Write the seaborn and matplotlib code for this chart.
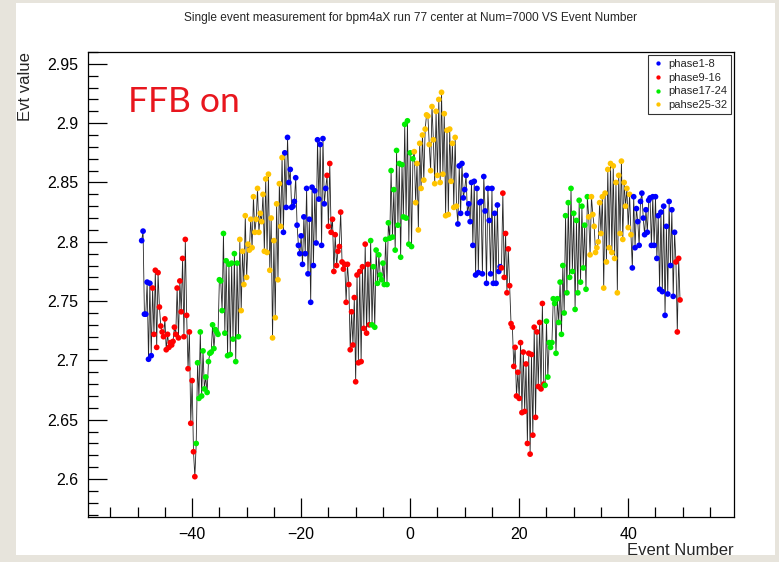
import numpy as np
import pandas as pd
import matplotlib
matplotlib.use("Agg")
import matplotlib.pyplot as plt
from matplotlib.patches import Rectangle
from matplotlib.ticker import MultipleLocator, FuncFormatter
import seaborn as sns

# Event number axis: first event and step between events
event_start, event_step = -49.25, 0.25

phase_names = ["phase1-8", "phase9-16", "phase17-24", "pahse25-32"]
phase_colors = ["#0000ff", "#ff0000", "#00ee00", "#ffc400"]

# Measured values, one list per consecutive block of the phase cycle
block01_blue = [2.801, 2.809, 2.739, 2.739, 2.766, 2.701, 2.765, 2.704]
block02_red = [2.761, 2.722, 2.776, 2.711, 2.774, 2.745, 2.729, 2.724, 2.720, 2.735,
               2.709, 2.722, 2.711, 2.715, 2.713, 2.716, 2.728, 2.722, 2.761, 2.719,
               2.767, 2.741, 2.786, 2.720, 2.802, 2.738, 2.693, 2.724, 2.647, 2.683,
               2.623, 2.602]
block03_green = [2.630, 2.698, 2.668, 2.724, 2.670, 2.708, 2.676, 2.686, 2.673, 2.699,
                 2.706, 2.707, 2.730, 2.710, 2.726, 2.724, 2.722, 2.768, 2.767, 2.742,
                 2.807, 2.723, 2.784, 2.704, 2.781, 2.705, 2.782, 2.718, 2.790, 2.699,
                 2.782, 2.720]
block04_yellow = [2.802, 2.742, 2.792, 2.764, 2.822, 2.770, 2.798, 2.793, 2.819, 2.795,
                  2.838, 2.808, 2.819, 2.845, 2.808, 2.824, 2.817, 2.840, 2.792, 2.853,
                  2.791, 2.857, 2.776, 2.820, 2.719, 2.801, 2.736, 2.832, 2.768, 2.849,
                  2.813, 2.871]
block05_blue = [2.808, 2.875, 2.829, 2.888, 2.850, 2.861, 2.829, 2.830, 2.834, 2.854,
                2.814, 2.797, 2.790, 2.805, 2.781, 2.821, 2.790, 2.845, 2.773, 2.819,
                2.749, 2.846, 2.780, 2.843, 2.799, 2.886, 2.836, 2.882, 2.797, 2.887,
                2.832, 2.845]
block06_red = [2.856, 2.813, 2.866, 2.808, 2.819, 2.775, 2.806, 2.780, 2.792, 2.796,
               2.825, 2.783, 2.777, 2.781, 2.749, 2.781, 2.764, 2.709, 2.741, 2.713,
               2.753, 2.682, 2.772, 2.698, 2.775, 2.699, 2.779, 2.727, 2.798, 2.723,
               2.781, 2.730]
block07_green = [2.801, 2.730, 2.779, 2.728, 2.793, 2.765, 2.789, 2.772, 2.768, 2.782,
                 2.764, 2.802, 2.764, 2.816, 2.803, 2.860, 2.804, 2.844, 2.793, 2.877,
                 2.814, 2.866, 2.787, 2.865, 2.821, 2.899, 2.820, 2.902, 2.798, 2.875,
                 2.796, 2.870]
block08_yellow = [2.876, 2.833, 2.866, 2.810, 2.883, 2.845, 2.890, 2.852, 2.895, 2.907,
                  2.906, 2.882, 2.860, 2.914, 2.886, 2.849, 2.910, 2.856, 2.920, 2.850,
                  2.926, 2.857, 2.908, 2.822, 2.894, 2.823, 2.895, 2.851, 2.883, 2.829,
                  2.888, 2.830]
block09_blue = [2.815, 2.864, 2.824, 2.866, 2.837, 2.844, 2.856, 2.824, 2.832, 2.817,
                2.850, 2.797, 2.851, 2.772, 2.845, 2.774, 2.833, 2.834, 2.773, 2.855,
                2.826, 2.765, 2.845, 2.818, 2.773, 2.845, 2.765, 2.824, 2.765, 2.831,
                2.775, 2.779]
block10_red = [2.778, 2.841, 2.770, 2.807, 2.757, 2.794, 2.763, 2.731, 2.728, 2.695,
               2.711, 2.670, 2.690, 2.668, 2.715, 2.656, 2.707, 2.657, 2.697, 2.630,
               2.706, 2.621, 2.705, 2.637, 2.728, 2.652, 2.724, 2.678, 2.732, 2.676,
               2.748, 2.680]
block11_green = [2.679, 2.733, 2.686, 2.715, 2.711, 2.715, 2.752, 2.748, 2.706, 2.752,
                 2.732, 2.766, 2.722, 2.780, 2.740, 2.822, 2.757, 2.833, 2.770, 2.845,
                 2.775, 2.824, 2.743, 2.818, 2.757, 2.835, 2.766, 2.830, 2.778, 2.814,
                 2.760, 2.838]
block12_yellow = [2.821, 2.789, 2.838, 2.823, 2.813, 2.791, 2.795, 2.800, 2.833, 2.807,
                  2.838, 2.761, 2.841, 2.783, 2.861, 2.795, 2.866, 2.791, 2.864, 2.786,
                  2.850, 2.757, 2.856, 2.807, 2.868, 2.802, 2.850, 2.830, 2.845, 2.812,
                  2.840, 2.806]
block13_blue = [2.778, 2.838, 2.795, 2.828, 2.817, 2.797, 2.834, 2.841, 2.820, 2.806,
                2.827, 2.808, 2.835, 2.837, 2.797, 2.838, 2.797, 2.838, 2.786, 2.822,
                2.760, 2.825, 2.758, 2.830, 2.738, 2.813, 2.756, 2.834, 2.780, 2.827,
                2.754, 2.808]
block14_red = [2.783, 2.724, 2.786, 2.751]

blocks = [
    (block01_blue, 0), (block02_red, 1), (block03_green, 2), (block04_yellow, 3),
    (block05_blue, 0), (block06_red, 1), (block07_green, 2), (block08_yellow, 3),
    (block09_blue, 0), (block10_red, 1), (block11_green, 2), (block12_yellow, 3),
    (block13_blue, 0), (block14_red, 1),
]

values = np.concatenate([b for b, _ in blocks])
phases = np.concatenate([[phase_names[p]] * len(b) for b, p in blocks])
events = event_start + event_step * np.arange(len(values))

df = pd.DataFrame({"event": events, "value": values, "phase": phases})

sns.set_style("white")
plt.rcParams["font.family"] = ["Liberation Sans", "DejaVu Sans"]

fig = plt.figure(figsize=(7.79, 5.62), dpi=100)
fig.patch.set_facecolor("#e7e4dc")
# white canvas area inside the grey border
fig.patches.append(Rectangle((16 / 779, 7 / 562), 759 / 779, 552 / 562,
                             transform=fig.transFigure, facecolor="white",
                             edgecolor="none", zorder=-5))

ax = fig.add_axes([88 / 779, 45 / 562, 646 / 779, 465 / 562])
ax.set_zorder(2)
ax.set_facecolor("white")

sns.lineplot(data=df, x="event", y="value", sort=False, estimator=None,
             color="black", lw=0.6, alpha=0.85, ax=ax, zorder=2)
sns.scatterplot(data=df, x="event", y="value", hue="phase",
                hue_order=phase_names, palette=phase_colors,
                s=17, edgecolor="none", linewidth=0, ax=ax, zorder=3)

ax.set_xlim(-59.1, 59.4)
ax.set_ylim(2.568, 2.960)

ax.xaxis.set_major_locator(MultipleLocator(20))
ax.xaxis.set_minor_locator(MultipleLocator(5))
ax.yaxis.set_major_locator(MultipleLocator(0.05))
ax.yaxis.set_minor_locator(MultipleLocator(0.01))
ax.yaxis.set_major_formatter(FuncFormatter(
    lambda v, _: f"{v:.2f}".rstrip("0").rstrip(".")))
ax.xaxis.set_major_formatter(FuncFormatter(
    lambda v, _: f"{v:.0f}".replace("-", "\u2212")))

ax.tick_params(which="both", direction="in", bottom=True, left=True,
               top=False, right=False, labelsize=11.5, colors="black")
ax.tick_params(which="major", length=14, width=0.9, pad=7)
ax.tick_params(which="minor", length=7, width=0.9)
for sp in ax.spines.values():
    sp.set_visible(True)
    sp.set_color("black")
    sp.set_linewidth(0.9)

ax.set_xlabel("Event Number", fontsize=12, loc="right", labelpad=1)
ax.set_ylabel("Evt value", fontsize=12, loc="top", labelpad=10)

fig.text(410 / 779, 1 - 18 / 562,
         "Single event measurement for bpm4aX run 77 center at Num=7000 VS Event Number",
         ha="center", va="center", fontsize=8.6)

fig.text(128 / 779, 1 - 102 / 562, "FFB on",
         color="#e8161e", fontsize=25.5, family=["Lato", "DejaVu Sans"],
         ha="left", va="center", zorder=5)

leg = ax.legend(title=None, loc="upper right", bbox_to_anchor=(1.0, 1.0),
                borderaxespad=0.25, frameon=True, fancybox=False,
                edgecolor="black", fontsize=8, markerscale=0.75,
                handletextpad=0.3, labelspacing=0.35, borderpad=0.35,
                handlelength=1.2)
leg.get_frame().set_linewidth(0.8)

fig.savefig("out.png", dpi=100, facecolor=fig.get_facecolor())
